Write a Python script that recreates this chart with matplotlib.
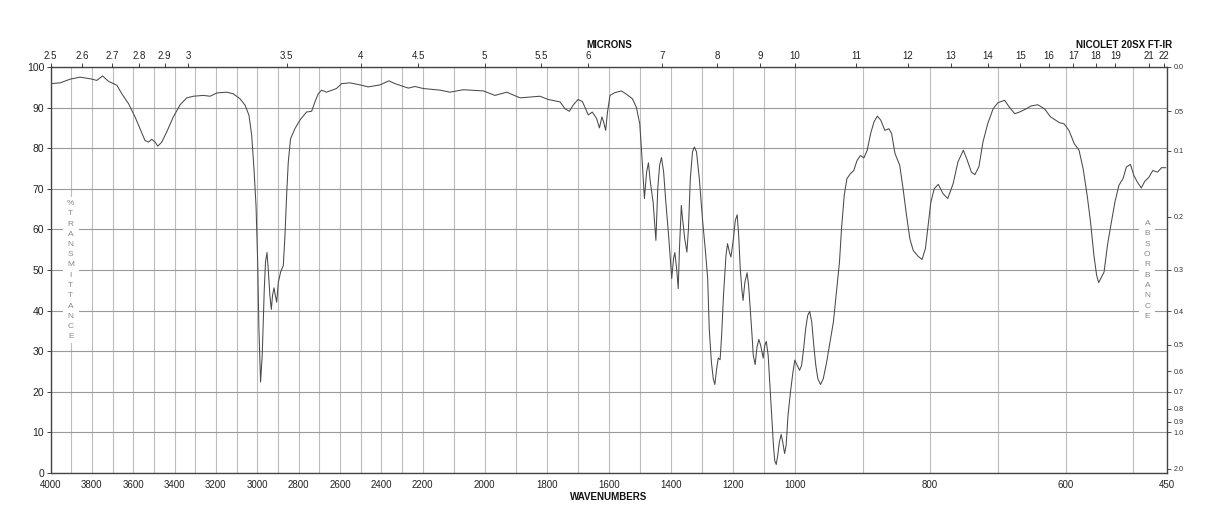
import numpy as np
import matplotlib
matplotlib.use("Agg")
import matplotlib.pyplot as plt

# ---------------- data ----------------
wavenumber = [
    4001, 3953, 3905, 3857, 3808, 3776, 3748, 3720, 3679, 3655, 3623, 3591, 3567, 3543,
    3526, 3510, 3494, 3481, 3462, 3438, 3406, 3373, 3341, 3309, 3261, 3228, 3196, 3148,
    3116, 3084, 3059, 3040, 3027, 3016, 3006, 2998, 2992, 2984, 2976, 2966, 2960, 2953,
    2947, 2939, 2932, 2926, 2919, 2913, 2906, 2898, 2887, 2874, 2866, 2858, 2850, 2839,
    2818, 2794, 2762, 2737, 2721, 2705, 2689, 2665, 2617, 2592, 2552, 2503, 2463, 2406,
    2363, 2334, 2269, 2237, 2198, 2144, 2112, 2069, 2004, 1967, 1929, 1886, 1822, 1795,
    1757, 1741, 1727, 1714, 1699, 1685, 1666, 1653, 1639, 1630, 1622, 1617, 1610, 1604,
    1596, 1580, 1559, 1543, 1524, 1511,
    1500, 1494, 1489, 1485, 1478, 1472, 1466, 1457, 1448, 1442, 1436, 1430, 1423, 1416,
    1407, 1401, 1397, 1391, 1387, 1381, 1376, 1372, 1366, 1362, 1355, 1348, 1343, 1337,
    1330, 1324, 1317, 1308, 1297, 1289, 1281, 1276, 1269, 1263, 1258, 1252, 1247, 1241,
    1236, 1230, 1222, 1217, 1211, 1206, 1198, 1192, 1186, 1181, 1176, 1171, 1167, 1161,
    1154, 1149, 1143, 1138, 1134, 1128, 1122, 1116, 1110, 1102, 1097, 1092, 1086, 1081,
    1075, 1069, 1065, 1060, 1055, 1050, 1044, 1039, 1033, 1028, 1022, 1014, 1006, 1000,
    996.5, 993, 990, 987, 984, 981, 978, 975, 972, 969, 966, 962, 958, 953, 948, 943,
    938, 934, 931, 927, 923, 918, 913, 908, 903, 898, 893, 888, 883, 878, 873,
    867, 861, 857, 852, 845, 840, 835, 830, 825, 818, 812, 807, 803, 799, 794, 788,
    781, 774, 766, 759, 751, 746, 739, 734, 728, 722, 715, 707, 700, 690, 683, 675,
    668, 658, 651, 641, 631, 622, 609, 602, 595, 587, 580, 574, 568, 563, 558, 554,
    551, 548, 543, 538, 533, 527, 521, 515, 510, 504, 499, 494, 488, 483, 477, 471,
    464, 458, 452,
]
transmittance = [
    95.9, 96.1, 97.0, 97.5, 97.1, 96.7, 97.8, 96.5, 95.5, 93.4, 91.0, 87.7, 84.8, 81.9,
    81.5, 82.2, 81.5, 80.5, 81.5, 84.0, 87.7, 90.7, 92.4, 92.8, 93.0, 92.8, 93.6, 93.8,
    93.4, 92.2, 90.6, 88.1, 83.2, 75.0, 65.9, 52.0, 35.5, 22.4, 29.0, 45.4, 52.0, 54.3,
    50.3, 43.8, 40.3, 43.8, 45.6, 43.8, 42.1, 47.0, 49.5, 51.1, 58.5, 68.4, 76.6, 82.3,
    84.8, 86.9, 88.9, 89.1, 91.4, 93.4, 94.3, 93.8, 94.7, 95.9, 96.1, 95.6, 95.1, 95.6,
    96.6, 95.9, 94.8, 95.2, 94.7, 94.3, 93.8, 94.4, 94.1, 93.0, 93.8, 92.4, 92.8, 92.0,
    91.4, 89.7, 89.1, 90.7, 92.0, 91.5, 88.2, 88.9, 87.3, 85.0, 87.7, 86.6, 84.4, 88.9,
    93.0, 93.7, 94.1, 93.3, 92.2, 90.1,
    86.0, 79.1, 72.5, 67.6, 74.1, 76.4, 71.7, 66.7, 57.3, 70.0, 75.8, 77.7, 74.1, 66.7,
    58.5, 52.0, 47.9, 52.8, 54.3, 50.3, 45.4, 55.3, 65.9, 62.6, 57.7, 54.4, 60.2, 72.5,
    79.1, 80.3, 79.1, 72.5, 61.8, 55.3, 47.9, 35.5, 27.3, 23.2, 21.8, 25.7, 28.3, 27.9,
    33.9, 43.8, 53.6, 56.5, 54.4, 53.2, 57.7, 62.2, 63.6, 58.5, 50.3, 45.4, 42.5, 47.0,
    49.3, 46.2, 39.7, 33.9, 29.0, 26.7, 31.0, 32.9, 31.4, 28.3, 31.4, 32.4, 29.0, 22.4,
    14.2, 6.8, 3.1, 2.1, 4.4, 7.6, 9.5, 7.6, 4.8, 6.8, 14.2, 20.0, 24.9, 27.8,
    26.5, 25.3, 26.5, 30.6, 35.5, 38.8, 39.8, 37.2, 31.4, 26.5, 23.2, 21.8, 23.2, 27.3, 32.3, 37.2,
    45.4, 52.0, 60.2, 68.4, 72.5, 73.7, 74.5, 77.0, 78.2, 77.6, 79.5, 83.6, 86.5, 87.9, 86.9,
    84.4, 84.8, 83.6, 78.7, 75.8, 70.0, 63.5, 57.7, 54.8, 53.4, 52.6, 55.3, 61.0, 66.7, 70.0, 71.1,
    68.8, 67.6, 71.3, 76.6, 79.5, 77.4, 74.1, 73.5, 75.4, 81.5, 86.0, 89.7, 91.2, 91.8, 90.1, 88.5,
    88.9, 89.7, 90.4, 90.7, 89.7, 87.7, 86.3, 86.0, 84.4, 81.1, 79.5, 75.0, 68.4, 61.8, 53.6, 48.7,
    46.9, 47.9, 49.5, 56.1, 61.0, 66.7, 70.9, 72.5, 75.4, 76.0, 73.3, 71.7, 70.2, 71.8, 72.8, 74.5,
    74.1, 75.2, 75.2,
]

wavenumber_ticks = [4000, 3800, 3600, 3400, 3200, 3000, 2800, 2600, 2400, 2200,
                    2000, 1800, 1600, 1400, 1200, 1000, 800, 600, 450]
grid_wavenumbers = list(range(3900, 1000, -100)) + [900, 800, 700, 600, 500]
micron_ticks = [2.5, 2.6, 2.7, 2.8, 2.9, 3, 3.5, 4, 4.5, 5, 5.5, 6, 7, 8, 9, 10,
                11, 12, 13, 14, 15, 16, 17, 18, 19, 21, 22]
micron_labels = ["2.5", "2.6", "2.7", "2.8", "2.9", "3", "3.5", "4", "4.5", "5", "5.5",
                 "6", "7", "8", "9", "10", "11", "12", "13", "14", "15", "16", "17",
                 "18", "19", "21", "22"]
absorbance_ticks = [0.0, 0.05, 0.1, 0.2, 0.3, 0.4, 0.5, 0.6, 0.7, 0.8, 0.9, 1.0, 2.0]
absorbance_labels = ["0.0", ".05", "0.1", "0.2", "0.3", "0.4", "0.5", "0.6", "0.7",
                     "0.8", "0.9", "1.0", "2.0"]
transmittance_ticks = list(range(0, 101, 10))

# piecewise-linear wavenumber scale (three equal-width panels)
BREAK_WN = [450, 1000, 2200, 4000]
BREAK_U = [0.0, 1.0, 2.0, 3.0]


def fwd(w):
    return np.interp(np.asarray(w, dtype=float), BREAK_WN, BREAK_U)


def inv(u):
    return np.interp(np.asarray(u, dtype=float), BREAK_U, BREAK_WN)


plt.rcParams["font.family"] = ["Liberation Sans", "DejaVu Sans"]

W, H = 1218, 528
fig = plt.figure(figsize=(W / 100, H / 100), dpi=100)
L, R, T, B = 50.5, 1167, 67, 473
ax = fig.add_axes([L / W, 1 - B / H, (R - L) / W, (B - T) / H])

ax.set_xscale("function", functions=(fwd, inv))
ax.set_xlim(4000, 450)
ax.set_ylim(0, 100)

grid_col_v = "#bdbdbd"
grid_col_h = "#9a9a9a"
ax.set_xticks(wavenumber_ticks)
ax.set_xticklabels([str(t) for t in wavenumber_ticks])
ax.set_xticks(grid_wavenumbers, minor=True)
ax.tick_params(axis="x", which="both", length=0, pad=5, labelsize=7, colors="#222222")
ax.grid(True, axis="x", which="both", color=grid_col_v, lw=0.8)
ax.set_yticks(transmittance_ticks)
ax.tick_params(axis="y", length=3, width=0.6, pad=1.5, labelsize=7.5, colors="#222222")
ax.grid(True, axis="y", which="major", color=grid_col_h, lw=0.8)
ax.set_axisbelow(True)
for s in ax.spines.values():
    s.set_color("#444444")
    s.set_linewidth(1.0)

ax.plot(wavenumber, transmittance, color="#4a4a4a", lw=0.75, zorder=3)

# top axis: microns
axt = ax.twiny()
axt.set_xscale("function", functions=(fwd, inv))
axt.set_xlim(4000, 450)
axt.set_xticks([10000.0 / m for m in micron_ticks])
axt.set_xticklabels(micron_labels)
axt.set_xticks([], minor=True)
axt.tick_params(axis="x", length=3, width=0.6, pad=1.5, labelsize=7, colors="#222222")
for s in axt.spines.values():
    s.set_visible(False)

# right axis: absorbance
axr = ax.twinx()
axr.set_ylim(0, 100)
axr.set_yticks([100.0 * 10 ** (-a) for a in absorbance_ticks])
axr.set_yticklabels(absorbance_labels)
axr.tick_params(axis="y", length=3, width=0.6, pad=1.5, labelsize=5.2, colors="#333333")
for s in axr.spines.values():
    s.set_visible(False)

# stacked axis captions
def stacked(letters, xpix, ytop, step):
    from matplotlib.patches import Rectangle
    ybot = ytop + step * (len(letters) - 1)
    fig.patches.append(Rectangle(((xpix - 8) / W, 1 - (ybot + 6) / H), 16 / W,
                                 (ybot - ytop + 12) / H, transform=fig.transFigure,
                                 facecolor="white", edgecolor="none", zorder=1.5))
    for i, ch in enumerate(letters):
        fig.text(xpix / W, 1 - (ytop + i * step) / H, ch, ha="center", va="center",
                 fontsize=6, color="#888888", zorder=2)


stacked("%TRANSMITTANCE", 70.7, 203.5, 10.25)
stacked("ABSORBANCE", 1147.3, 223.3, 10.35)

fig.text(609 / W, 1 - 45 / H, "MICRONS", ha="center", va="center",
         fontsize=7, fontweight="bold", color="#111111")
fig.text(1172 / W, 1 - 45 / H, "NICOLET 20SX FT-IR", ha="right", va="center",
         fontsize=7, fontweight="bold", color="#111111")
fig.text(609 / W, 1 - 497 / H, "WAVENUMBERS", ha="center", va="center",
         fontsize=7, fontweight="bold", color="#111111")

fig.savefig("out.png", dpi=100)
